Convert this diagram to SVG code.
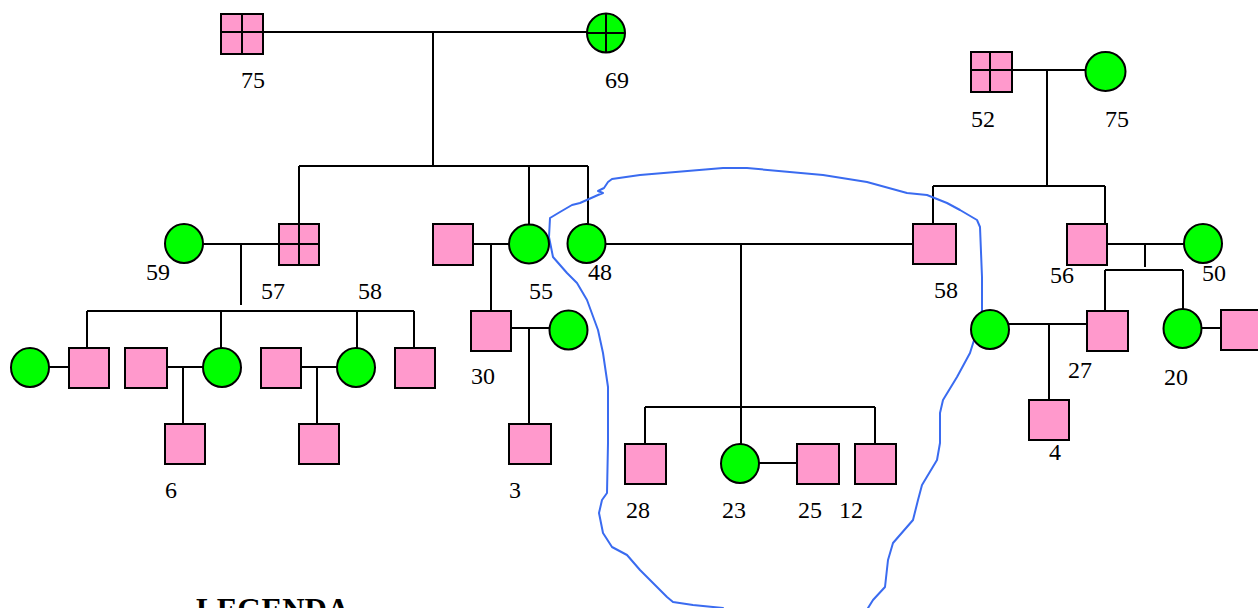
<svg xmlns="http://www.w3.org/2000/svg" width="1258" height="608" viewBox="0 0 1258 608">
<style>
.sq{fill:#ff99cc;stroke:#000;stroke-width:2}
.ci{fill:#00ff00;stroke:#000;stroke-width:2}
.x{stroke:#000;stroke-width:2;fill:none}
.c path{stroke:#000;stroke-width:2;fill:none}
.lb{font-family:"Liberation Serif",serif;font-size:24px;fill:#000}
.lg{font-family:"Liberation Serif",serif;font-size:31px;font-weight:bold;fill:#000}
</style>
<rect width="1258" height="608" fill="#fff"/>
<g id="connectors" class="c">
<path d="M263,32H587M433,32V166M299,166H588M299,166V224M529,166V224M588,166V224"/>
<path d="M203,244H279M241,244V305M87,311H414M87,311V348M221,311V348M357,311V348M414,311V348"/>
<path d="M49,367H69M165,367H203M183,367V424M301,367H337M317,367V424"/>
<path d="M473,244H509M491,244V311M511,328H549M529,328V424"/>
<path d="M606,244H913M741,244V444M645,407H875M645,407V444M875,407V444M759,463H797"/>
<path d="M1012,70H1085M1047,70V186M933,186H1105M933,186V224M1105,186V224"/>
<path d="M1107,244H1184M1145,244V267M1105,270H1183M1105,270V311M1183,270V310"/>
<path d="M1009,324H1087M1049,324V400M1202,328H1221"/>
</g>
<polyline id="circled-area" fill="none" stroke="#3a6bf0" stroke-width="2" stroke-linejoin="round" stroke-linecap="round" points="723,608 693,605 673,602 667,597 640,570 627,555 612,547 603,533 599,513 602,500 607,493 608,443 608,387 603,353 598,330 587,300 577,283 567,273 553,257 549,237 550,218 560,212 572,205 580,203 598,195 603,193 598,191 604,188 608,182 612,179 640,175 723,168 747,168 823,175 867,182 907,193 927,195 947,203 960,210 977,220 980,227 982,277 982,310 980,322 975,337 970,353 957,377 943,400 940,413 940,443 937,460 922,485 918,500 913,520 893,543 888,560 885,587 873,600 868,608"/>
<g id="n75"><rect class="sq" x="221" y="14" width="42" height="40"/><path class="x" d="M242,14V54M221,32H263"/></g>
<g id="n69"><ellipse class="ci" cx="606" cy="33" rx="19" ry="19.5"/><path class="x" d="M606,13.5V52.5M587,33H625"/></g>
<g id="n52"><rect class="sq" x="971" y="52" width="41" height="40"/><path class="x" d="M990,52V92M971,70H1012"/></g>
<g id="n75b"><ellipse class="ci" cx="1105.5" cy="71.5" rx="20" ry="19.5"/></g>
<g id="n59"><ellipse class="ci" cx="184" cy="243.5" rx="19" ry="19.5"/></g>
<g id="n57"><rect class="sq" x="279" y="224" width="40" height="41"/><path class="x" d="M299,224V265M279,244H319"/></g>
<g id="n55h"><rect class="sq" x="433" y="224" width="40" height="41"/></g>
<g id="n55"><ellipse class="ci" cx="529" cy="244" rx="20" ry="19.5"/></g>
<g id="n48"><ellipse class="ci" cx="586.5" cy="243.5" rx="19" ry="19.5"/></g>
<g id="n58r"><rect class="sq" x="913" y="224" width="43" height="40"/></g>
<g id="n56"><rect class="sq" x="1067" y="224" width="40" height="41"/></g>
<g id="n50"><ellipse class="ci" cx="1203" cy="243.5" rx="19" ry="19.5"/></g>
<g id="nA"><ellipse class="ci" cx="30" cy="367.5" rx="19" ry="19.5"/></g>
<g id="nB"><rect class="sq" x="69" y="348" width="40" height="40"/></g>
<g id="nC"><rect class="sq" x="125" y="348" width="42" height="40"/></g>
<g id="nD"><ellipse class="ci" cx="222" cy="367.5" rx="19" ry="19.5"/></g>
<g id="n6"><rect class="sq" x="165" y="424" width="40" height="40"/></g>
<g id="nE"><rect class="sq" x="261" y="348" width="40" height="40"/></g>
<g id="nF"><ellipse class="ci" cx="356" cy="367.5" rx="19" ry="19.5"/></g>
<g id="nG"><rect class="sq" x="299" y="424" width="40" height="40"/></g>
<g id="nH"><rect class="sq" x="395" y="348" width="40" height="40"/></g>
<g id="n30"><rect class="sq" x="471" y="311" width="40" height="40"/></g>
<g id="n30w"><ellipse class="ci" cx="568.5" cy="330" rx="19" ry="19.5"/></g>
<g id="n3"><rect class="sq" x="509" y="424" width="42" height="40"/></g>
<g id="n28"><rect class="sq" x="625" y="444" width="41" height="40"/></g>
<g id="n23"><ellipse class="ci" cx="740" cy="463.5" rx="19" ry="19.5"/></g>
<g id="n25"><rect class="sq" x="797" y="444" width="42" height="40"/></g>
<g id="n12"><rect class="sq" x="855" y="444" width="41" height="40"/></g>
<g id="n27w"><ellipse class="ci" cx="990" cy="329.5" rx="19" ry="19.5"/></g>
<g id="n27"><rect class="sq" x="1087" y="311" width="41" height="40"/></g>
<g id="n4"><rect class="sq" x="1029" y="400" width="40" height="40"/></g>
<g id="n20"><ellipse class="ci" cx="1182.5" cy="328.5" rx="19" ry="19.5"/></g>
<g id="n20h"><rect class="sq" x="1221" y="310" width="42" height="40"/></g>
<g id="labels">
<text class="lb" x="241" y="88">75</text>
<text class="lb" x="605" y="88">69</text>
<text class="lb" x="971" y="127">52</text>
<text class="lb" x="1105" y="127">75</text>
<text class="lb" x="146" y="280">59</text>
<text class="lb" x="261" y="299">57</text>
<text class="lb" x="358" y="299">58</text>
<text class="lb" x="529" y="299">55</text>
<text class="lb" x="588" y="280">48</text>
<text class="lb" x="934" y="298">58</text>
<text class="lb" x="1050" y="283">56</text>
<text class="lb" x="1202" y="281">50</text>
<text class="lb" x="471" y="384">30</text>
<text class="lb" x="1068" y="378">27</text>
<text class="lb" x="1164" y="385">20</text>
<text class="lb" x="165" y="498">6</text>
<text class="lb" x="509" y="498">3</text>
<text class="lb" x="1049" y="460">4</text>
<text class="lb" x="626" y="518">28</text>
<text class="lb" x="722" y="518">23</text>
<text class="lb" x="798" y="518">25</text>
<text class="lb" x="839" y="518">12</text>
<text class="lg" x="196" y="620">LEGENDA</text>
</g>
</svg>
